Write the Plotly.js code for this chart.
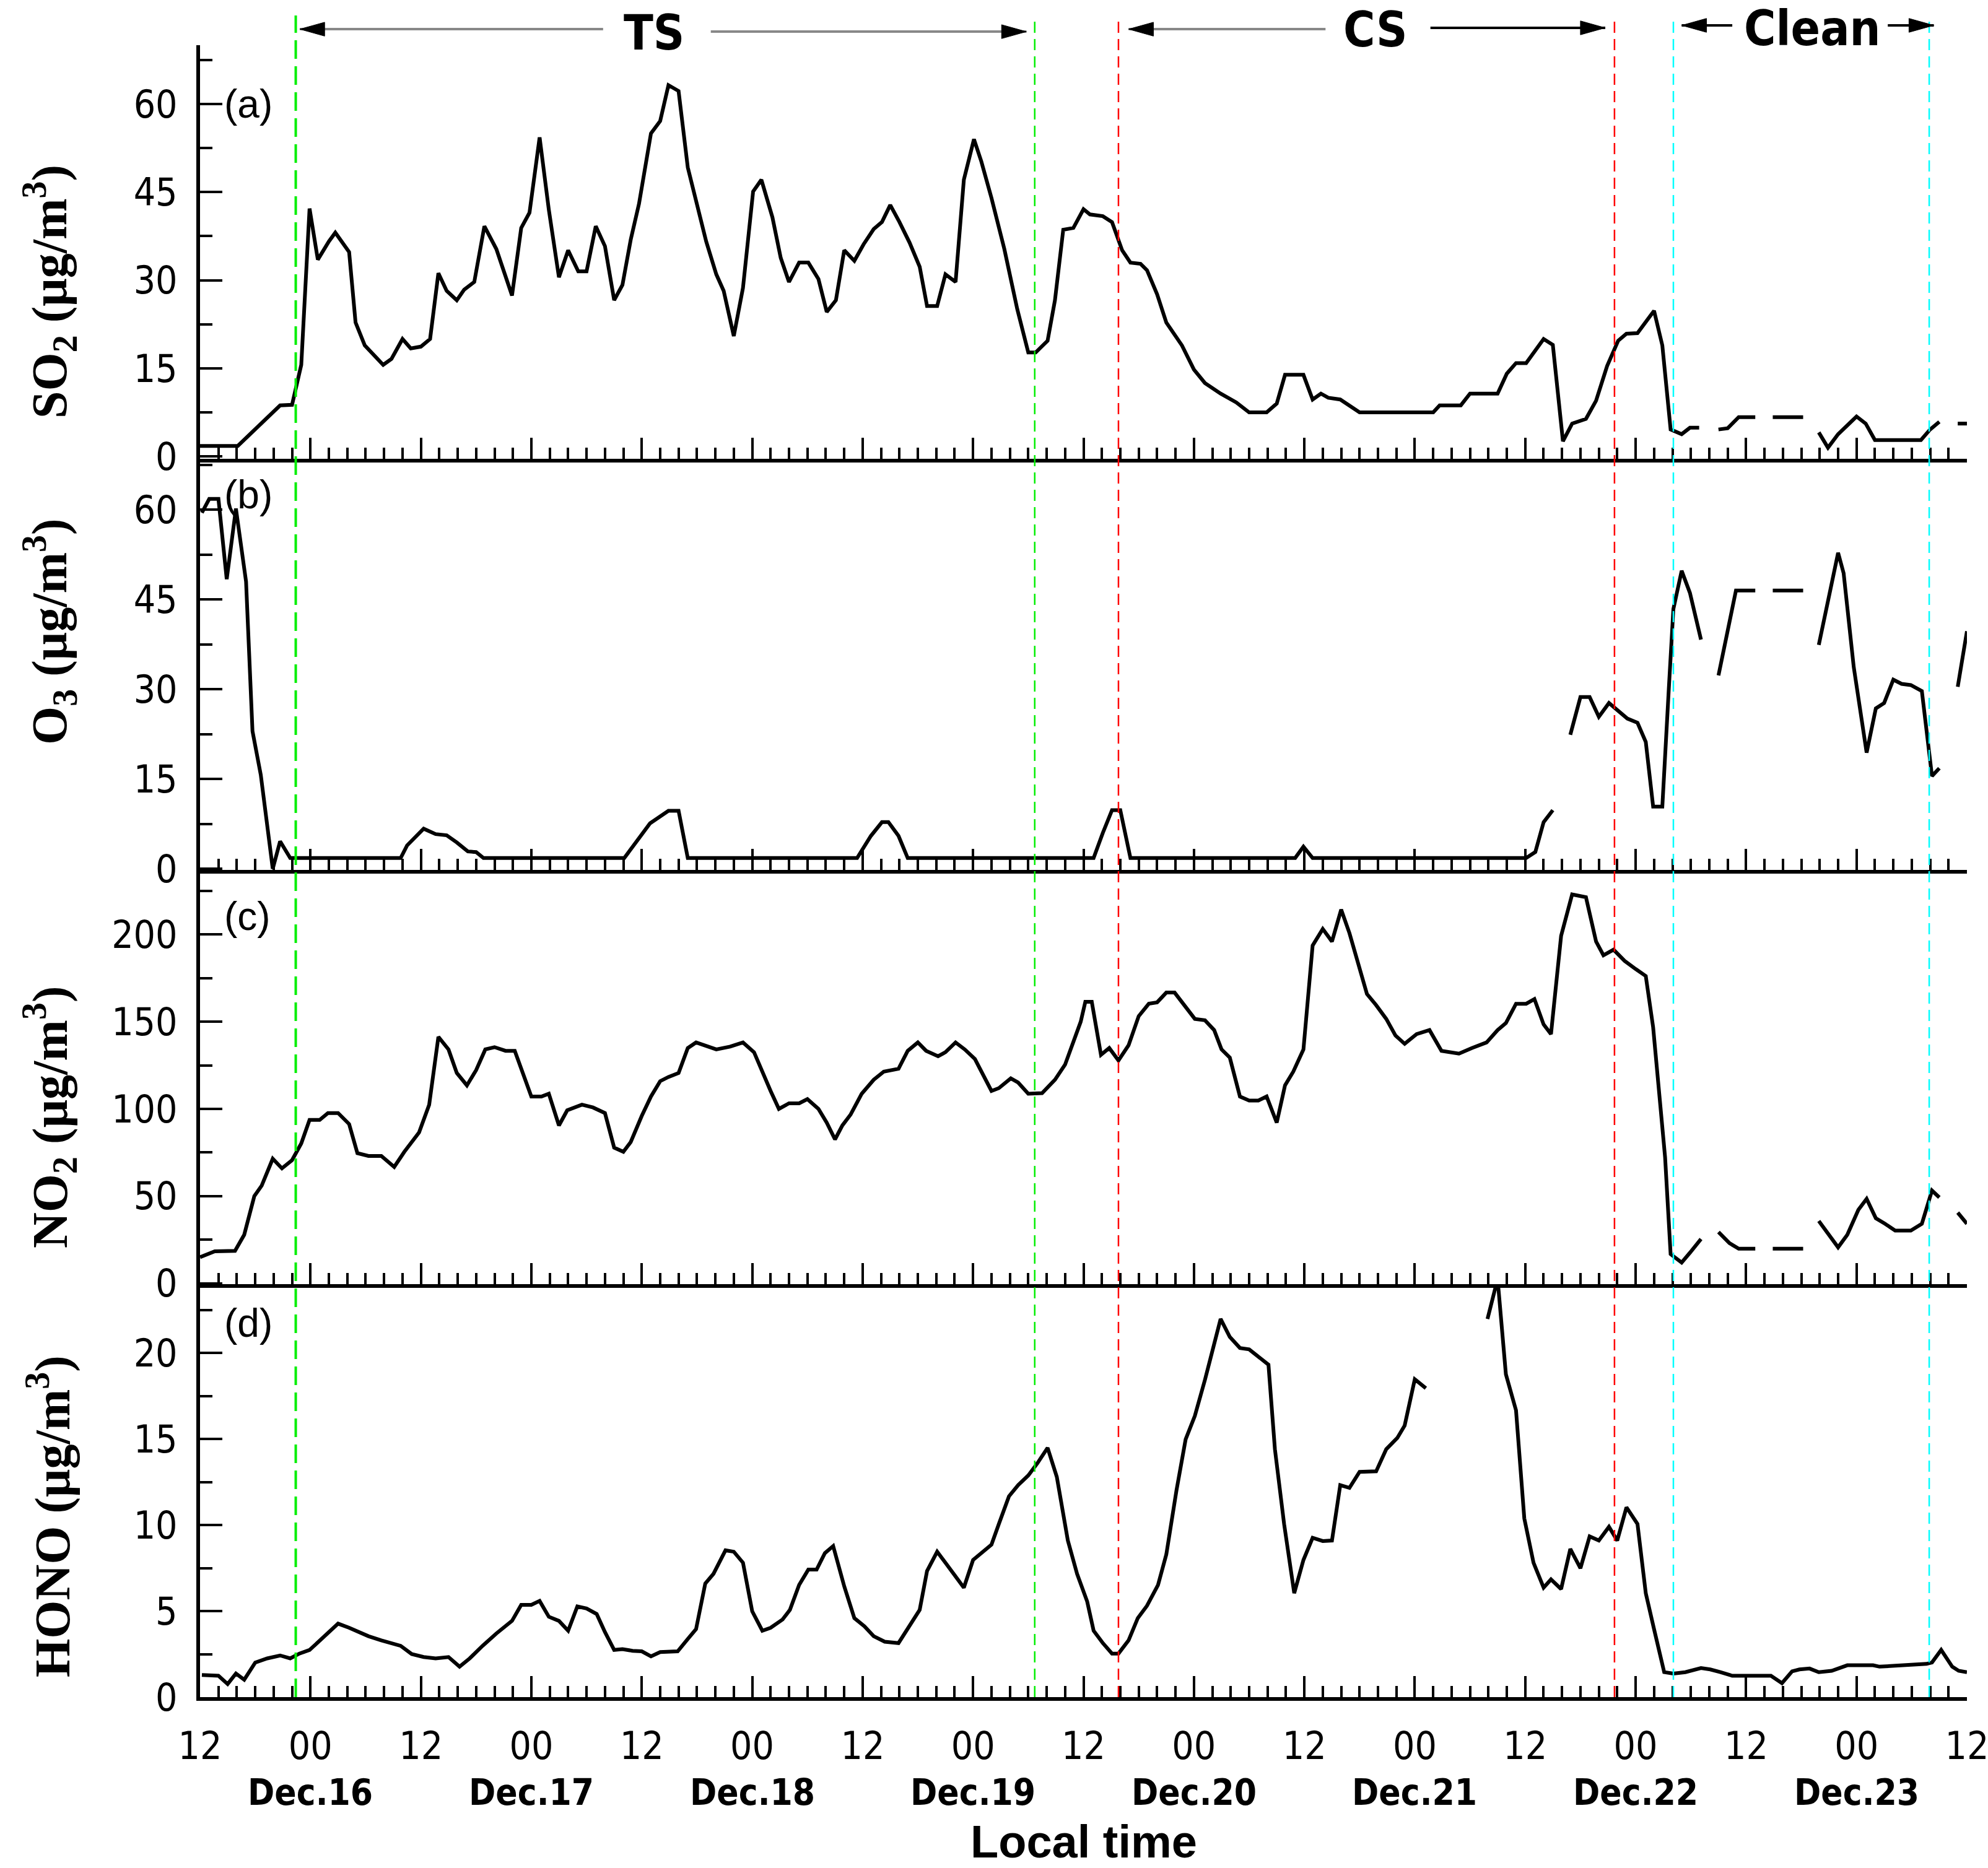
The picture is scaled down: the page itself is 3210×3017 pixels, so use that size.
<!DOCTYPE html>
<html>
<head>
<meta charset="utf-8">
<script src="https://cdn.plot.ly/plotly-3.0.1.min.js"></script>
<style>
  body { margin: 0; background: #fff; }
  #graph { width: 3210px; height: 3017px; }
</style>
</head>
<body>
<div id="graph"></div>
<script>
// time axis: hours since Dec.15 12:00 local time, null = missing data
var so2Hours = [0, 4.1, 8.7, 10, 11, 11.9, 12.8, 14, 14.7, 16.2, 16.9, 17.9, 19.9, 20.8, 22, 22.9, 24, 25, 25.9, 26.8,
  27.9, 28.7, 29.8, 30.9, 32.2, 33.9, 34.9, 35.8, 36.9, 37.9, 39, 40, 41.1, 42, 43, 44, 45, 45.9, 46.8, 47.7,
  49, 50, 50.9, 52, 53, 54.1, 55, 56.1, 56.9, 58, 59, 60.1, 61, 62.2, 63.1, 64, 65.1, 66.1, 67.2, 68.1,
  69.1, 70, 71.1, 72.1, 73.2, 74.1, 75, 76, 77.1, 78.2, 79, 80.1, 81, 82.1, 83, 84.1, 84.9, 86, 87.4, 88.8,
  90, 90.8, 92.1, 92.9, 93.8, 94.9, 96, 96.7, 98.1, 99.1, 100.2, 101.1, 102.2, 102.9, 104, 105, 106.7, 108, 109.2, 110.9,
  112.6, 114, 115.9, 117, 117.9, 119.9, 120.9, 121.8, 122.6, 123.9, 126, 134, 134.7, 137, 138, 141, 142, 143, 144.1, 146,
  147, 148.1, 149.1, 150.6, 151.7, 152.9, 154.1, 155, 156.2, 158, 158.9, 159.8, 161, 161.9, 162.9, 164, 165, 166, 167.2, 169,
  170, 170.9, 174.2, 175, 175.9, 176.9, 178, 180, 181, 182, 187, 188, 189, 190, 191, 192];
var so2Values = [1.8, 1.8, 8.7, 8.8, 15.6, 42.2, 33.5, 36.6, 38.1, 34.8, 22.8, 18.9, 15.6, 16.6, 20, 18.4, 18.7, 20, 31.2, 28.2,
  26.6, 28.4, 29.7, 39.2, 35.3, 27.4, 38.9, 41.5, 54.3, 42, 30.5, 35.1, 31.5, 31.5, 39.2, 35.8, 26.6, 29.2, 36.9, 43,
  55, 57.1, 63.2, 62.2, 49.2, 42, 36.6, 31, 28.2, 20.5, 28.7, 45.1, 47.1, 40.7, 33.8, 29.7, 33, 33, 30.2, 24.6,
  26.6, 35.1, 33.3, 36.1, 38.7, 39.9, 42.8, 39.9, 36.4, 32.3, 25.6, 25.6, 31, 29.7, 47.1, 54, 50.2, 44, 35.3, 25.1,
  17.7, 17.7, 19.7, 26.6, 38.6, 38.9, 42.1, 41.2, 40.9, 39.9, 35.1, 33, 32.8, 31.7, 27.6, 22.8, 18.9, 14.8, 12.5, 10.7,
  9.2, 7.5, 7.5, 9, 13.9, 13.9, 9.7, 10.7, 10, 9.7, 7.5, 7.5, 8.7, 8.7, 10.7, 10.7, 14.1, 15.9, 15.9, 20,
  19, 2.6, 5.6, 6.4, 9.5, 15.4, 19.7, 20.9, 21, 24.8, 18.9, 4.6, 3.8, 4.9, 4.9, null, 4.6, 4.8, 6.7, 6.7,
  null, 6.7, 6.7, null, 4.1, 1.5, 3.8, 6.8, 5.6, 2.8, 2.8, 4.6, 5.9, null, 5.6, 5.6];

var o3Hours = [0.2, 1, 2, 2.9, 3.9, 5, 5.7, 6.6, 7.9, 8.7, 9.8, 21.8, 22.5, 24.3, 25.6, 26.8, 27.9, 29.1, 30, 30.8,
  46.1, 47.3, 48.9, 50.9, 52, 53, 71.4, 72.9, 74.1, 74.8, 75.9, 76.9, 97.1, 98.1, 99.1, 100, 101.1, 119, 119.9, 120.9,
  144.1, 145.1, 146, 147, 148, 148.9, 150, 151, 152, 153.1, 154.1, 155.1, 156.2, 157.1, 157.9, 158.9, 159.6, 160.1, 161, 161.9,
  163.1, 164, 165, 166.9, 169, 170, 170.9, 174.2, 175, 175.9, 176.9, 178, 178.6, 179.7, 181.1, 182.1, 183, 184, 184.9, 185.9,
  187.1, 188.2, 189, 190, 191, 192];
var o3Values = [59.5, 61.8, 61.8, 48.4, 60.2, 48, 23, 15.7, 0, 4.6, 1.8, 1.8, 3.9, 6.7, 5.8, 5.6, 4.4, 2.9, 2.8, 1.8,
  1.8, 4.2, 7.6, 9.7, 9.7, 1.8, 1.8, 5.5, 7.8, 7.8, 5.5, 1.8, 1.8, 6, 9.8, 9.8, 1.8, 1.8, 3.7, 1.8,
  1.8, 2.8, 7.8, 9.8, null, 22.4, 28.7, 28.7, 25.4, 27.7, 26.3, 25.1, 24.4, 21.2, 10.4, 10.4, 30, 43.4, 49.8, 46.1,
  38.3, null, 32.3, 46.5, 46.5, null, 46.5, 46.5, null, 37.4, 44.7, 52.8, 49.4, 33.7, 19.4, 26.8, 27.7, 31.6, 30.9, 30.7,
  29.7, 15.5, 16.8, null, 30.4, 39.7];

var no2Hours = [0, 1.6, 3.8, 4.8, 5.9, 6.7, 7.9, 8.9, 10, 11, 11.9, 13, 13.9, 15, 16.2, 17.1, 18.3, 19.7, 21.1, 22.2,
  23.8, 24.9, 25.9, 27, 27.9, 29, 30, 31, 32, 33.2, 34.2, 34.9, 36, 37.1, 37.9, 39, 39.9, 41.5, 42.7, 44,
  45, 46, 46.8, 48, 49, 50, 50.9, 52, 53, 53.9, 54.8, 56.1, 57.6, 59, 60.2, 61.2, 62, 62.9, 64, 65.1,
  66, 67.2, 68.1, 69, 69.8, 70.7, 71.9, 73.2, 74.3, 75.9, 76.9, 78, 78.9, 80.2, 81, 82.1, 83.1, 84.2, 85.1, 86,
  86.8, 88.1, 88.9, 90, 91.5, 92.9, 94, 94.8, 95.7, 96.2, 96.9, 97.9, 98.8, 99.8, 100.9, 102, 103.1, 104, 105, 105.9,
  107.1, 108.1, 109.2, 110.2, 111, 111.9, 113, 114, 115, 115.9, 117, 117.9, 118.8, 119.9, 120.9, 122, 123, 124, 124.9, 125.9,
  126.8, 127.8, 128.9, 129.9, 130.9, 132.2, 133.6, 134.9, 136.8, 138.2, 139.8, 141, 141.9, 143, 144.1, 145, 146, 146.8, 147.9, 149.1,
  150.6, 151.7, 152.5, 153.6, 154.8, 156, 157.1, 157.9, 158.6, 159.2, 159.8, 161, 161.9, 163.1, 164, 165, 166.2, 167.2, 169, 170,
  170.9, 174.2, 175, 175.9, 178, 179, 180.2, 181.1, 182.1, 183.1, 184.2, 185.9, 187.1, 188.2, 189, 190, 191, 192];
var no2Values = [15, 18.3, 18.6, 27.8, 50, 56, 71.4, 65.9, 70.6, 80.2, 93.7, 93.7, 97.6, 97.6, 91.3, 74.6, 73, 73, 66.7, 75.4,
  86.5, 102.4, 141.3, 134.1, 120.6, 113.5, 122.2, 134.1, 135.4, 133.3, 133.3, 123, 107.1, 107.1, 108.7, 90.5, 99.2, 102.4, 100.8, 97.6,
  77.8, 75.4, 81, 96, 107.1, 115.9, 118.3, 120.6, 134.9, 138.1, 136.5, 134.1, 135.7, 138.1, 132.5, 119.8, 110.3, 100, 103.2, 103.2,
  105.6, 100, 92.1, 82.5, 90.5, 96.8, 108.7, 116.7, 121.4, 123, 133.3, 138.1, 133.3, 130.2, 132.5, 138.1, 134.1, 128.6, 119, 110.3,
  111.9, 117.5, 115.1, 108.7, 109, 116.7, 125.4, 137.3, 150, 161.4, 161.4, 131, 134.9, 127.8, 136.5, 153.2, 160.3, 161.1, 166.7, 166.7,
  158.7, 151.6, 150.8, 145.2, 134.1, 129.4, 107.1, 104.8, 104.8, 107.1, 92.1, 113.5, 121.4, 134.1, 193.7, 203.2, 196, 214.3, 200.8, 181.7,
  165.9, 159.5, 151.6, 142.1, 137.3, 142.9, 145.2, 133.3, 131.7, 134.9, 138.1, 145.2, 149.2, 160.3, 160.3, 163, 148.4, 142.9, 199.2, 223,
  221.4, 196, 188.1, 191.3, 184.9, 180.2, 176.2, 146.8, 105.6, 72.2, 16.7, 11.9, 17.5, 25.4, null, 29.4, 23, 19.8, 19.8, null,
  19.8, 19.8, null, 35.7, 20.6, 27.8, 42.1, 48.4, 37.3, 34.1, 30.2, 30.2, 34.1, 53.2, 49.2, null, 40.5, 34.1];

var honoHours = [0.2, 2, 3, 3.9, 4.8, 6, 7.3, 8.7, 9.8, 10.8, 11.9, 13, 14, 15, 16.2, 17.2, 18.3, 19.7, 20.8, 21.8,
  23, 24.3, 25.6, 27, 28.2, 29.3, 30.7, 32.2, 33.9, 34.9, 36, 36.9, 37.9, 39, 40, 41, 42, 43.1, 44, 45,
  45.9, 47, 48, 49, 50, 51.9, 53, 53.9, 54.9, 55.8, 57.1, 58, 59, 60, 61.1, 62, 63.3, 64.1, 65.1, 66.1,
  67, 67.9, 68.8, 70, 71.1, 72.2, 73.2, 74.4, 75.9, 77.1, 78.2, 79, 80.1, 81, 83, 84, 85.1, 86, 86.8, 87.9,
  88.9, 90, 91, 92.1, 93.1, 94.3, 95.3, 96.4, 97.1, 98.1, 99.1, 99.8, 100.9, 101.9, 102.9, 104.1, 105, 106.1, 107.1, 108.1,
  109.2, 109.9, 110.9, 111.9, 113, 114, 115, 116.1, 116.8, 117.8, 118.9, 119.9, 120.9, 122, 123, 123.9, 124.9, 126, 127.8, 128.9,
  130.1, 130.9, 132, 133.2, 136, 139.9, 141, 141.9, 143, 143.9, 144.9, 146, 146.8, 147.9, 148.9, 150, 151, 152, 153.1, 154,
  155, 156.2, 157.1, 158, 159.1, 160.1, 161.4, 163.1, 164.1, 165.2, 166.5, 170.7, 171.9, 173, 173.8, 174.9, 175.9, 177.3, 179, 181.8,
  182.5, 187.6, 188.2, 189.2, 190.4, 191.1, 192];
var honoValues = [1.29, 1.24, 0.76, 1.37, 1.01, 2.01, 2.25, 2.42, 2.25, 2.53, 2.74, 3.3, 3.78, 4.27, 4.03, 3.78, 3.54, 3.3, 3.14, 2.98,
  2.5, 2.33, 2.25, 2.33, 1.77, 2.25, 2.98, 3.7, 4.43, 5.36, 5.36, 5.59, 4.67, 4.43, 3.86, 5.27, 5.15, 4.83, 3.78, 2.74,
  2.79, 2.69, 2.66, 2.37, 2.62, 2.66, 3.38, 3.95, 6.6, 7.17, 8.53, 8.45, 7.81, 4.99, 3.86, 4.03, 4.51, 5.07, 6.52, 7.41,
  7.41, 8.37, 8.78, 6.44, 4.59, 4.11, 3.54, 3.22, 3.14, 4.11, 5.07, 7.33, 8.45, 7.81, 6.36, 7.97, 8.45, 8.86, 10.06, 11.67,
  12.32, 12.88, 13.6, 14.49, 12.8, 9.1, 7.17, 5.56, 3.86, 3.14, 2.53, 2.53, 3.3, 4.59, 5.31, 6.52, 8.29, 12, 14.98, 16.34,
  18.44, 19.89, 21.98, 20.93, 20.29, 20.21, 19.81, 19.32, 14.41, 10.06, 6.04, 7.97, 9.26, 9.07, 9.1, 12.32, 12.16, 13.09, 13.12, 14.41,
  15.06, 15.78, 18.47, 17.95, null, 21.98, 24.3, 18.76, 16.67, 10.39, 7.81, 6.36, 6.84, 6.28, 8.61, 7.49, 9.34, 9.1, 9.9, 9.1,
  11.03, 10.06, 6.04, 3.95, 1.45, 1.37, 1.45, 1.69, 1.61, 1.45, 1.24, 1.24, 0.81, 1.5, 1.61, 1.66, 1.45, 1.53, 1.85, 1.85,
  1.77, 1.93, 2.01, 2.74, 1.77, 1.53, 1.45];

// x tick labels every 12 h, dates under the 00 ticks
var tickHours = [0, 12, 24, 36, 48, 60, 72, 84, 96, 108, 120, 132, 144, 156, 168, 180, 192];
var tickLabels = ['12', '00', '12', '00', '12', '00', '12', '00', '12', '00', '12', '00', '12', '00', '12', '00', '12'];
var dateHours = [12, 36, 60, 84, 108, 132, 156, 180];
var dateLabels = ['Dec.16', 'Dec.17', 'Dec.18', 'Dec.19', 'Dec.20', 'Dec.21', 'Dec.22', 'Dec.23'];

// period boundaries (TS, CS, Clean)
var boundHours = [10.4, 90.7, 99.8, 153.7, 160.1, 187.9];
var boundColors = ['#00ee00', '#00ee00', '#ff0000', '#ff0000', '#00ffff', '#00ffff'];

var narrow = 'Liberation Sans Narrow, Arial Narrow, DejaVu Sans Condensed, sans-serif';

function trace(xs, ys, n) {
  return {
    x: xs, y: ys, xaxis: 'x' + n, yaxis: 'y' + n,
    type: 'scatter', mode: 'lines', connectgaps: false,
    line: { color: '#000', width: 6 }, hoverinfo: 'skip', showlegend: false
  };
}
var data = [
  trace(so2Hours, so2Values, ''),
  trace(o3Hours, o3Values, '2'),
  trace(no2Hours, no2Values, '3'),
  trace(honoHours, honoValues, '4')
];

function xaxis(anchor, labels) {
  return {
    anchor: anchor, domain: [0, 1], range: [0, 192],
    showline: true, linewidth: 6, linecolor: '#000',
    showgrid: false, zeroline: false,
    tickmode: 'array', tickvals: tickHours, ticktext: tickLabels,
    ticks: 'inside', ticklen: 34, tickwidth: 4, tickcolor: '#000',
    showticklabels: labels, ticklabelstandoff: 20, ticklabeloverflow: 'allow',
    tickfont: { family: narrow, size: 62, color: '#000' },
    minor: { tickmode: 'linear', tick0: 0, dtick: 2, ticks: 'inside', ticklen: 18, tickwidth: 4, tickcolor: '#000', showgrid: false }
  };
}
function yaxis(anchor, dom, rng, dt) {
  return {
    anchor: anchor, domain: dom, range: rng,
    showline: true, linewidth: 6, linecolor: '#000',
    showgrid: false, zeroline: false,
    tick0: 0, dtick: dt,
    ticks: 'inside', ticklen: 36, tickwidth: 4, tickcolor: '#000',
    ticklabelstandoff: 18,
    tickfont: { family: narrow, size: 62, color: '#000' },
    minor: { tick0: 0, dtick: dt / 2, ticks: 'inside', ticklen: 20, tickwidth: 4, tickcolor: '#000', showgrid: false }
  };
}

var shapes = [];
boundHours.forEach(function (h, i) {
  shapes.push({
    type: 'line', xref: 'x', yref: 'paper', x0: h, x1: h, y0: 0, y1: 1.018,
    line: { color: boundColors[i], width: i == 0 ? 4 : 2.5, dash: i == 0 ? '30px,12px' : '18px,10px' }
  });
});
// header arrows: shaft + filled head
function shaft(a, b, y, c) {
  shapes.push({ type: 'line', xref: 'x', yref: 'paper', x0: a, x1: b, y0: y, y1: y, line: { color: c, width: 4 } });
}
function head(h, y, dir) {
  var tail = h + dir * 2.7, dy = 0.0042;
  shapes.push({
    type: 'path', xref: 'x', yref: 'paper', fillcolor: '#000', line: { color: '#000', width: 1 },
    path: 'M' + h + ',' + y + ' L' + tail + ',' + (y + dy) + ' L' + tail + ',' + (y - dy) + ' Z'
  });
}
shaft(10.84, 43.8, 1.0097, '#888'); head(10.84, 1.0097, 1);
shaft(55.5, 89.8, 1.0082, '#888'); head(89.8, 1.0082, -1);
shaft(100.9, 122.3, 1.0097, '#888'); head(100.9, 1.0097, 1);
shaft(133.7, 152.7, 1.0105, '#000'); head(152.7, 1.0105, -1);
shaft(161, 166.5, 1.012, '#000'); head(161, 1.012, 1);
shaft(183.4, 188.4, 1.012, '#000'); head(188.4, 1.012, -1);

var annotations = [];
function label(txt, x, y, xref, fnt, extra) {
  var a = { text: txt, x: x, y: y, xref: xref, yref: 'paper', showarrow: false, font: fnt,
    xanchor: 'center', yanchor: 'middle' };
  for (var k in extra) a[k] = extra[k];
  annotations.push(a);
}
var headFont = { family: narrow, size: 78, color: '#000', weight: 'bold' };
label('TS', 49.3, 1.0075, 'x', headFont, {});
label('CS', 127.7, 1.0094, 'x', headFont, {});
label('Clean', 175.2, 1.0101, 'x', headFont, {});

var panelFont = { family: 'Liberation Sans, Arial, sans-serif', size: 64, color: '#000' };
label('(a)', 0.013, 0.9644, 'paper', panelFont, { xanchor: 'left' });
label('(b)', 0.013, 0.7279, 'paper', panelFont, { xanchor: 'left' });
label('(c)', 0.013, 0.4726, 'paper', panelFont, { xanchor: 'left' });
label('(d)', 0.013, 0.2264, 'paper', panelFont, { xanchor: 'left' });

var dateFont = { family: narrow, size: 58, color: '#000', weight: 'bold' };
dateHours.forEach(function (h, i) {
  label(dateLabels[i], h, -0.0577, 'x4', dateFont, {});
});
label('Local time', 0.5, -0.0875, 'paper', { family: 'Liberation Sans, Arial, sans-serif', size: 74, color: '#000', weight: 'bold' }, {});

var titleFont = { family: 'Liberation Serif, Times New Roman, serif', size: 80, color: '#000', weight: 'bold' };
var unit = ' (μg/m<sup>3</sup>)';
label('SO<sub>2</sub>' + unit, -0.0852, 0.8508, 'paper', titleFont, { textangle: -90 });
label('O<sub>3</sub>' + unit, -0.0852, 0.645, 'paper', titleFont, { textangle: -90 });
label('NO<sub>2</sub>' + unit, -0.0852, 0.3512, 'paper', titleFont, { textangle: -90 });
label('HONO' + unit, -0.0852, 0.1094, 'paper', titleFont, { textangle: -90 });

var layout = {
  width: 3210, height: 3017,
  margin: { l: 323, r: 34, t: 73, b: 276 },
  paper_bgcolor: '#fff', plot_bgcolor: '#fff',
  showlegend: false,
  xaxis: xaxis('y', false),
  xaxis2: xaxis('y2', false),
  xaxis3: xaxis('y3', false),
  xaxis4: xaxis('y4', true),
  yaxis: yaxis('x', [0.7496, 1], [-0.4, 70], 15),
  yaxis2: yaxis('x2', [0.5007, 0.7496], [-0.2, 68.5], 15),
  yaxis3: yaxis('x3', [0.25, 0.5007], [-0.5, 237], 50),
  yaxis4: yaxis('x4', [0, 0.25], [0, 24], 5),
  shapes: shapes,
  annotations: annotations
};

Plotly.newPlot('graph', data, layout, { staticPlot: true });
</script>
</body>
</html>
